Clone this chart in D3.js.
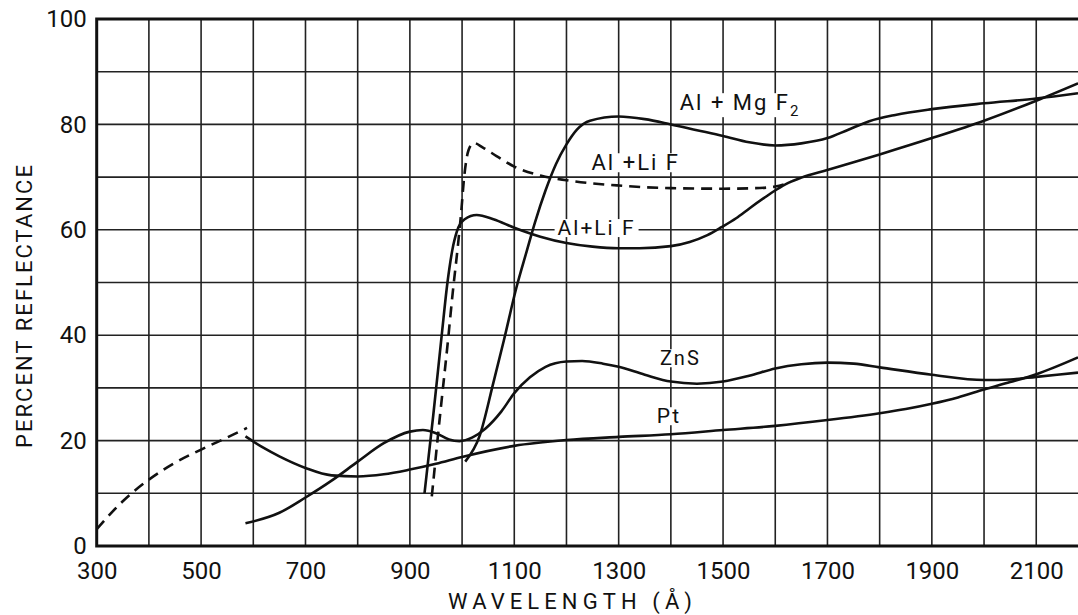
<!DOCTYPE html>
<html>
<head>
<meta charset="utf-8">
<script src="https://cdn.jsdelivr.net/npm/d3@7"></script>
<style>
  body { margin: 0; background: #fff; }
  text { font-family: Roboto, "DejaVu Sans", sans-serif; fill: #111; }
</style>
</head>
<body>
<script>
// tick labels
const wavelengthTicks = [300, 500, 700, 900, 1100, 1300, 1500, 1700, 1900, 2100];
const reflectanceTicks = [0, 20, 40, 60, 80, 100];

// curves, [wavelength (A), percent reflectance]
const shortDashed = [[300, 3.2], [350, 8.5], [400, 12.6], [450, 15.8], [500, 18.3], [550, 20.6], [588, 22.4]];

const pt = [[585, 20.8], [620, 18.6], [650, 17], [700, 14.8], [750, 13.4], [800, 13.2], [850, 13.6],
  [900, 14.5], [950, 15.6], [1000, 16.9], [1100, 19], [1200, 20.1], [1300, 20.7], [1400, 21.2],
  [1500, 22], [1600, 22.8], [1700, 23.9], [1800, 25.2], [1850, 26], [1900, 27], [1950, 28.2],
  [2000, 29.7], [2050, 31.1], [2100, 32.6], [2180, 35.8]];

const zns = [[585, 4.3], [650, 6.3], [700, 9.2], [750, 12.4], [800, 16], [850, 19.5], [900, 21.7],
  [925, 22], [950, 21.4], [975, 20.2], [995, 19.9], [1020, 20.6], [1045, 22.3], [1075, 25.5],
  [1100, 29], [1130, 32], [1160, 34], [1200, 35], [1230, 35.1], [1270, 34.6], [1300, 34],
  [1350, 32.5], [1400, 31.2], [1450, 30.8], [1500, 31.2], [1550, 32.3], [1600, 33.7], [1650, 34.5],
  [1700, 34.8], [1750, 34.6], [1800, 33.9], [1900, 32.5], [2000, 31.5], [2050, 31.6], [2100, 32.1], [2180, 32.9]];

const alLif = [[928, 10], [945, 25], [961, 40], [972, 50], [983, 57], [993, 60.5], [1005, 62],
  [1028, 62.8], [1060, 62], [1100, 60.4], [1150, 58.7], [1200, 57.5], [1250, 56.8], [1300, 56.5],
  [1340, 56.5], [1400, 56.9], [1436, 57.7], [1470, 59], [1497, 60.5], [1525, 62.2], [1551, 64.1],
  [1578, 66], [1602, 67.6], [1625, 68.9], [1650, 69.9], [1698, 71.3], [1750, 72.8], [1800, 74.3],
  [1900, 77.4], [2000, 80.7], [2100, 84.5], [2180, 87.8]];

const alLifDashed = [[942, 9.4], [958, 25], [973, 39], [982, 48], [992, 57], [998, 63], [1004, 70],
  [1012, 75], [1022, 76.5], [1040, 75.6], [1066, 74], [1100, 72], [1150, 70.3], [1200, 69.4],
  [1300, 68.4], [1400, 67.9], [1500, 67.8], [1560, 67.9], [1600, 68.2], [1630, 69.1]];

const alMgf2 = [[1006, 16], [1034, 21], [1060, 31], [1080, 39], [1104, 49], [1124, 56], [1140, 61.5],
  [1160, 67.5], [1180, 72.5], [1200, 76.2], [1220, 79], [1245, 80.7], [1300, 81.5], [1350, 81],
  [1400, 80], [1450, 78.9], [1500, 77.8], [1550, 76.6], [1600, 76], [1650, 76.4], [1700, 77.4],
  [1740, 79], [1780, 80.6], [1830, 81.8], [1900, 82.9], [2000, 84], [2100, 84.9], [2180, 85.9]];

// curve labels: text, wavelength, percent (left / baseline)
const labels = [
  { text: 'Al + Mg F', sub: '2', at: [1417, 82.7], size: 22 },
  { text: 'Al +Li F', at: [1248, 71.3], size: 22 },
  { text: 'Al+Li F', at: [1183, 59.0], size: 21 },
  { text: 'ZnS', at: [1379, 34.3], size: 20 },
  { text: 'Pt', at: [1373, 23.3], size: 21 },
];

const width = 1078, height = 615;

const x = d3.scaleLinear().domain([300, 2180]).range([96.7, 1078]);
const y = d3.scaleLinear().domain([0, 100]).range([546, 19]);

const svg = d3.create('svg')
  .attr('width', width)
  .attr('height', height)
  .attr('viewBox', [0, 0, width, height]);
document.body.appendChild(svg.node());

svg.append('rect').attr('width', width).attr('height', height).attr('fill', '#fff');

// grid
const grid = svg.append('g').attr('stroke', '#222').attr('stroke-width', 1.6);
grid.selectAll('.h').data(d3.range(10, 100, 10)).join('line')
  .attr('x1', x(300)).attr('x2', x(2180))
  .attr('y1', d => y(d)).attr('y2', d => y(d));
grid.selectAll('.v').data(d3.range(400, 2200, 100)).join('line')
  .attr('x1', d => x(d)).attr('x2', d => x(d))
  .attr('y1', y(0)).attr('y2', y(100));

// frame
svg.append('path')
  .attr('d', `M${x(2180)},${y(100)}H${x(300)}V${y(0)}H${x(2180)}`)
  .attr('stroke', '#111').attr('stroke-width', 3).attr('fill', 'none');

// axes
const xAxis = svg.append('g')
  .attr('transform', `translate(0,${y(0)})`)
  .call(d3.axisBottom(x).tickValues(wavelengthTicks).tickFormat(d3.format('d')).tickSize(0).tickPadding(16));
const yAxis = svg.append('g')
  .attr('transform', `translate(${x(300)},0)`)
  .call(d3.axisLeft(y).tickValues(reflectanceTicks).tickFormat(d3.format('d')).tickSize(0).tickPadding(10));
[xAxis, yAxis].forEach(a => {
  a.select('.domain').remove();
  a.selectAll('text').attr('font-family', 'Roboto').attr('font-size', 24).attr('fill', '#111');
});

svg.append('text')
  .attr('x', 448).attr('y', 609)
  .attr('font-size', 22)
  .attr('textLength', 244).attr('lengthAdjust', 'spacing')
  .text('WAVELENGTH (Å)');

svg.append('text')
  .attr('transform', 'translate(32,448) rotate(-90)')
  .attr('font-size', 22)
  .attr('textLength', 283).attr('lengthAdjust', 'spacing')
  .text('PERCENT REFLECTANCE');

// curves
const line = d3.line()
  .x(d => x(d[0]))
  .y(d => y(d[1]))
  .curve(d3.curveMonotoneX);

const curves = [
  { data: shortDashed, dashed: true },
  { data: pt },
  { data: zns },
  { data: alLif },
  { data: alLifDashed, dashed: true },
  { data: alMgf2 },
];

svg.append('clipPath').attr('id', 'plot')
  .append('rect').attr('x', x(300)).attr('y', y(100)).attr('width', x(2180) - x(300)).attr('height', y(0) - y(100));

svg.append('g').attr('clip-path', 'url(#plot)')
  .selectAll('path').data(curves).join('path')
  .attr('d', d => line(d.data))
  .attr('fill', 'none')
  .attr('stroke', '#111')
  .attr('stroke-width', 2.6)
  .attr('stroke-dasharray', d => d.dashed ? '11,7' : null);

// labels with white backing over grid
const labelG = svg.append('g');
labels.forEach(l => {
  const g = labelG.append('g');
  const t = g.append('text')
    .attr('x', x(l.at[0])).attr('y', y(l.at[1]))
    .attr('font-size', l.size)
    .attr('letter-spacing', 2)
    .text(l.text);
  if (l.sub) {
    t.append('tspan').attr('dy', 6).attr('font-size', 15).text(l.sub);
  }
  const b = t.node().getBBox();
  g.insert('rect', 'text')
    .attr('x', b.x - 3).attr('y', b.y + 3)
    .attr('width', b.width + 6).attr('height', b.height - 6)
    .attr('fill', '#fff');
});
</script>
</body>
</html>
